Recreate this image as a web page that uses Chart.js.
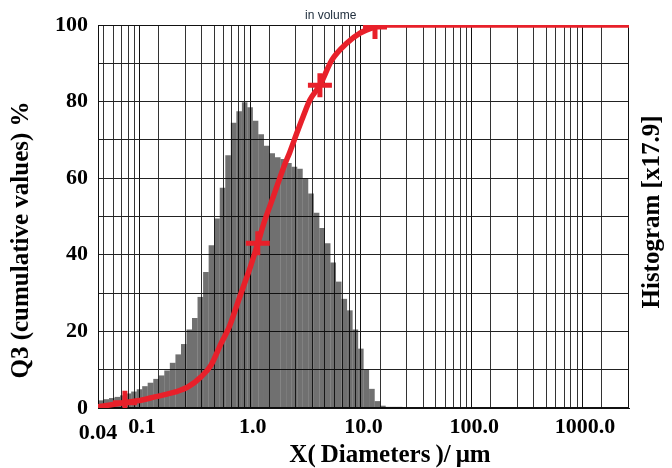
<!DOCTYPE html>
<html>
<head>
<meta charset="utf-8">
<title>Particle size distribution</title>
<script src="https://cdn.jsdelivr.net/npm/chart.js@4.4.0/dist/chart.umd.min.js"></script>
<style>
  html, body { margin: 0; padding: 0; background: #fff; }
  #wrap { width: 672px; height: 468px; }
</style>
</head>
<body>
<div id="wrap"><canvas id="psd" width="672" height="468"></canvas></div>
<script>
// histogram classes: centre diameter (um) and height on the Q3 scale
const binSizes = [
  0.0424, 0.0475, 0.0533, 0.0598, 0.0671, 0.0753, 0.0845, 0.0948, 0.106, 0.119,
  0.134, 0.150, 0.168, 0.189, 0.212, 0.238, 0.267, 0.299, 0.336, 0.377,
  0.423, 0.475, 0.533, 0.598, 0.671, 0.753, 0.845, 0.948, 1.06, 1.19,
  1.34, 1.50, 1.68, 1.89, 2.12, 2.38, 2.67, 2.99, 3.36, 3.77,
  4.23, 4.75, 5.33, 5.98, 6.71, 7.53, 8.45, 9.48, 10.6, 11.9,
  13.4, 15.0, 16.8, 18.9, 21.2
];
const binHeights = [
  2.0, 2.3, 2.6, 2.9, 3.3, 3.8, 4.3, 4.9, 5.7, 6.6,
  7.6, 8.5, 9.8, 11.8, 14.0, 16.7, 20.5, 23.5, 29.0, 35.5,
  42.5, 49.5, 57.5, 66.0, 74.5, 77.5, 79.8, 78.5, 75.0, 71.5,
  68.5, 66.5, 65.5, 65.0, 64.0, 63.0, 62.5, 60.0, 56.0, 51.0,
  47.0, 43.0, 38.0, 33.0, 28.5, 25.5, 20.5, 15.5, 10.0, 5.0,
  1.8, 0.6, 0.3, 0.3, 0.3
];

// cumulative distribution Q3 (%)
const q3Sizes = [
  0.04, 0.07, 0.1, 0.13, 0.2, 0.26, 0.34, 0.42, 0.52, 0.61,
  0.71, 0.82, 0.95, 1.11, 1.26, 1.46, 1.69, 1.94, 2.16, 2.5,
  2.84, 3.28, 4.04, 5.19, 7.09, 9.3, 12.7, 15, 100, 2500
];
const q3Values = [
  0.3, 1.4, 2.1, 2.9, 4.2, 5.5, 8.1, 11.2, 17.0, 21.0,
  26.4, 31.6, 36.8, 43.0, 48.3, 53.5, 58.7, 63.5, 66.8, 71.8,
  76.0, 80.4, 84.3, 90.9, 95.3, 97.9, 99.5, 100, 100, 100
];
// sizes that carry a cross mark on the curve
const markedSizes = [0.07, 1.11, 4.04, 12.7];

// axis labelling
const xTickValues = [0.04, 0.1, 1, 10, 100, 1000];
const xTickLabels = [['', '0.04'], '0.1', '1.0', '10.0', '100.0', '1000.0'];
const yTickLabels = [0, 20, 40, 60, 80, 100];
const decades = [0.01, 0.1, 1, 10, 100, 1000];

const RED = '#e8202a';
const serif = 'Liberation Serif, Times New Roman, serif';

// log grid: 1..9 in every decade, inside 0.04 .. 2500
const gridValues = [];
decades.forEach(d => {
  for (let m = 1; m <= 9; m++) {
    const v = Number((d * m).toPrecision(6));
    if (v >= 0.04 && v <= 2500) gridValues.push(v);
  }
});

function sameVal(a, b) { return Math.abs(a - b) < 1e-9 * Math.max(1, b); }
function isDecade(v) { return decades.some(d => sameVal(v, d)); }
function xLabelFor(v) {
  const i = xTickValues.findIndex(t => sameVal(v, t));
  return i < 0 ? '' : xTickLabels[i];
}

const annotate = {
  id: 'annotate',
  beforeDatasetsDraw(chart) {
    const a = chart.chartArea, ctx = chart.ctx;
    ctx.save();
    ctx.strokeStyle = '#111';
    ctx.lineWidth = 1;
    ctx.strokeRect(a.left + 0.5, a.top + 0.5, a.right - a.left - 1, a.bottom - a.top - 1);
    ctx.restore();
  },
  afterDraw(chart) {
    const ctx = chart.ctx;
    ctx.save();
    ctx.fillStyle = '#000';
    ctx.textAlign = 'center';
    ctx.textBaseline = 'middle';
    ctx.font = 'bold 25px ' + serif;

    ctx.save();
    ctx.translate(22, 240);
    ctx.rotate(-Math.PI / 2);
    ctx.fillText('Q3 (cumulative values) %', 0, 0);
    ctx.restore();

    ctx.save();
    ctx.translate(653, 212);
    ctx.rotate(-Math.PI / 2);
    ctx.fillText('Histogram [x17.9]', 0, 0);
    ctx.restore();

    ctx.fillText('X(\u2009Diameters\u2009)/\u2009\u03bcm', 390, 456);

    ctx.font = '12px Liberation Sans, Arial, sans-serif';
    ctx.fillStyle = '#22303f';
    ctx.textAlign = 'left';
    ctx.fillText('in volume', 305, 16);
    ctx.restore();
  }
};

new Chart(document.getElementById('psd'), {
  type: 'bar',
  data: {
    datasets: [
      {
        type: 'line',
        data: q3Sizes.map((x, i) => ({ x: x, y: q3Values[i] })),
        borderColor: RED,
        borderWidth: 5.5,
        cubicInterpolationMode: 'monotone',
        pointStyle: 'cross',
        pointRadius: ctx => (ctx.raw && markedSizes.includes(ctx.raw.x)) ? 12 : 0,
        pointBorderWidth: 5,
        pointBorderColor: RED,
        order: 1
      },
      {
        type: 'bar',
        data: binSizes.map((x, i) => ({ x: x, y: binHeights[i] })),
        backgroundColor: 'rgba(0,0,0,0.56)',
        borderWidth: 0,
        inflateAmount: 0,
        barThickness: 'flex',
        barPercentage: 1,
        categoryPercentage: 1,
        order: 2
      }
    ]
  },
  options: {
    responsive: false,
    animation: false,
    layout: { padding: { top: 25, right: 43, left: 0, bottom: 0 } },
    plugins: { legend: { display: false }, tooltip: { enabled: false } },
    scales: {
      x: {
        type: 'logarithmic',
        min: 0.04,
        max: 2500,
        afterBuildTicks: s => { s.ticks = gridValues.map(v => ({ value: v })); },
        afterFit: s => { s.height = 60; },
        grid: {
          color: ctx => (ctx.tick && isDecade(ctx.tick.value)) ? '#111' : '#333',
          lineWidth: 1,
          drawTicks: false
        },
        border: { color: '#111' },
        ticks: {
          autoSkip: false,
          maxRotation: 0,
          minRotation: 0,
          padding: 6,
          color: '#000',
          font: ctx => ({
            family: serif, size: 22, weight: 'bold',
            lineHeight: (ctx.tick && sameVal(ctx.tick.value, 0.04)) ? '13px' : 1.2
          }),
          callback: v => xLabelFor(v)
        }
      },
      y: {
        min: 0,
        max: 100,
        afterFit: s => { s.width = 98; },
        grid: { color: '#222', lineWidth: 1, drawTicks: false },
        border: { color: '#111' },
        ticks: {
          stepSize: 10,
          padding: 10,
          color: '#000',
          font: { family: serif, size: 22, weight: 'bold' },
          callback: v => yTickLabels.includes(v) ? String(v) : ''
        }
      }
    }
  },
  plugins: [annotate]
});
</script>
</body>
</html>
